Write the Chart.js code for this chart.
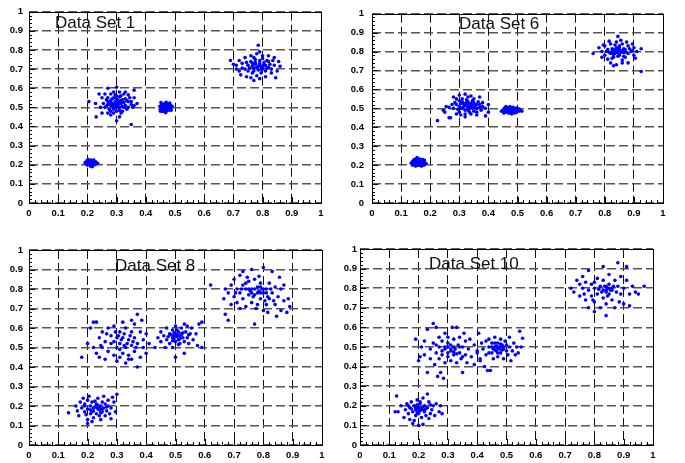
<!DOCTYPE html>
<html>
<head>
<meta charset="utf-8">
<script src="https://cdn.jsdelivr.net/npm/chart.js@4.4.0/dist/chart.umd.min.js"></script>
<style>
  body { margin: 0; background: #fff; width: 685px; height: 463px; position: relative; overflow: hidden; }
  canvas { position: absolute; }
</style>
</head>
<body>
<canvas id="c1" width="335" height="225" style="left:0;top:0"></canvas>
<canvas id="c2" width="345" height="225" style="left:340px;top:0"></canvas>
<canvas id="c3" width="335" height="231" style="left:0;top:232px"></canvas>
<canvas id="c4" width="345" height="231" style="left:340px;top:232px"></canvas>
<script>
const titles = ['Data Set 1', 'Data Set 6', 'Data Set 8', 'Data Set 10']
const tickLabels = ['0', '0.1', '0.2', '0.3', '0.4', '0.5', '0.6', '0.7', '0.8', '0.9', '1']

// Data Set 1
const set1 = [
  // small blob near (0.21, 0.21)
  [0.195,0.205],[0.2,0.215],[0.205,0.22],[0.21,0.212],[0.215,0.205],[0.22,0.218],[0.2,0.198],[0.208,0.2],[0.218,0.198],[0.225,0.21],
  [0.213,0.225],[0.203,0.227],[0.196,0.214],[0.222,0.224],[0.23,0.205],[0.235,0.208],[0.207,0.208],[0.214,0.216],[0.199,0.222],[0.226,0.2],
  [0.21,0.193],[0.217,0.19],[0.192,0.21],[0.228,0.215],[0.204,0.212],
  // cloud near (0.30, 0.52)
  [0.205,0.53],[0.228,0.52],[0.23,0.45],[0.35,0.41],[0.3,0.43],[0.37,0.52],[0.36,0.59],[0.27,0.6],[0.3,0.605],[0.355,0.5],
  [0.24,0.57],[0.25,0.47],[0.31,0.45],[0.28,0.46],
  [0.26,0.5],[0.27,0.53],[0.28,0.51],[0.29,0.55],[0.3,0.52],[0.31,0.5],[0.32,0.54],[0.33,0.51],[0.34,0.53],[0.29,0.49],
  [0.3,0.56],[0.31,0.58],[0.27,0.55],[0.28,0.57],[0.325,0.57],[0.335,0.49],[0.345,0.55],[0.285,0.52],[0.295,0.5],[0.305,0.535],
  [0.315,0.52],[0.275,0.49],[0.265,0.54],[0.255,0.52],[0.32,0.48],[0.3,0.48],[0.29,0.47],[0.34,0.5],[0.35,0.53],[0.36,0.55],
  [0.25,0.55],[0.26,0.57],[0.31,0.555],[0.33,0.545],[0.28,0.535],[0.295,0.565],[0.32,0.505],[0.305,0.515],[0.285,0.505],[0.31,0.485],
  [0.27,0.515],[0.34,0.565],[0.35,0.515],[0.3,0.545],[0.325,0.525],[0.315,0.56],[0.295,0.53],[0.28,0.48],[0.265,0.505],[0.33,0.58],
  [0.29,0.58],[0.245,0.5],[0.36,0.51],[0.315,0.47],[0.27,0.47],
  [0.295,0.515],[0.305,0.5],[0.315,0.535],[0.285,0.545],[0.275,0.525],[0.325,0.5],[0.335,0.535],[0.3,0.53],[0.31,0.525],[0.29,0.51],
  // small blob near (0.465, 0.50)
  [0.45,0.49],[0.455,0.5],[0.46,0.51],[0.465,0.495],[0.47,0.505],[0.475,0.49],[0.48,0.5],[0.485,0.51],[0.46,0.485],[0.47,0.48],
  [0.48,0.485],[0.455,0.515],[0.465,0.52],[0.475,0.515],[0.485,0.495],[0.49,0.505],[0.448,0.505],[0.452,0.525],[0.47,0.527],[0.482,0.522],
  [0.458,0.478],[0.468,0.472],[0.476,0.5],[0.462,0.503],[0.487,0.485],[0.45,0.48],
  // cloud near (0.79, 0.71)
  [0.69,0.745],[0.71,0.72],[0.72,0.69],[0.73,0.73],[0.74,0.7],[0.75,0.72],[0.76,0.74],[0.77,0.69],[0.78,0.71],[0.79,0.73],
  [0.8,0.7],[0.81,0.72],[0.82,0.74],[0.83,0.7],[0.84,0.72],[0.85,0.69],[0.86,0.715],[0.785,0.825],[0.78,0.78],[0.8,0.77],
  [0.82,0.77],[0.76,0.77],[0.74,0.76],[0.72,0.745],[0.725,0.67],[0.745,0.66],[0.77,0.64],[0.79,0.65],[0.81,0.66],[0.845,0.655],
  [0.83,0.68],[0.765,0.68],[0.755,0.705],[0.775,0.725],[0.795,0.715],[0.805,0.735],[0.815,0.705],[0.785,0.695],[0.765,0.715],[0.79,0.745],
  [0.8,0.755],[0.775,0.75],[0.825,0.725],[0.835,0.745],[0.75,0.69],[0.73,0.705],[0.71,0.7],[0.7,0.725],[0.855,0.74],[0.84,0.76],
  [0.77,0.705],[0.81,0.69],[0.795,0.68],[0.78,0.665],[0.76,0.655],[0.82,0.71],[0.79,0.79],[0.77,0.76],[0.745,0.735],
  [0.785,0.715],[0.795,0.7],[0.805,0.72],[0.775,0.735],[0.815,0.745],[0.765,0.73],[0.79,0.72],[0.8,0.71]
]

// Data Set 6
const set6 = [
  [0.135,0.21],[0.14,0.22],[0.145,0.205],[0.15,0.215],[0.155,0.225],[0.16,0.21],[0.165,0.22],[0.17,0.205],[0.175,0.215],[0.18,0.225],
  [0.185,0.21],[0.14,0.2],[0.15,0.195],[0.16,0.198],[0.17,0.195],[0.178,0.2],[0.145,0.23],[0.155,0.24],[0.165,0.232],[0.175,0.23],
  [0.157,0.208],[0.148,0.222],[0.168,0.214],[0.182,0.205],[0.152,0.232],[0.162,0.228],[0.138,0.215],[0.173,0.222],
  [0.225,0.435],[0.25,0.48],[0.245,0.49],[0.265,0.45],[0.27,0.45],[0.4,0.52],[0.4,0.48],[0.39,0.46],[0.255,0.51],[0.28,0.56],[0.37,0.56],
  [0.28,0.5],[0.29,0.52],[0.3,0.54],[0.31,0.5],[0.32,0.52],[0.33,0.49],[0.34,0.51],[0.35,0.53],[0.36,0.5],[0.37,0.52],
  [0.38,0.51],[0.3,0.48],[0.32,0.47],[0.34,0.47],[0.36,0.48],[0.31,0.55],[0.33,0.56],[0.35,0.55],[0.29,0.55],[0.3,0.57],
  [0.32,0.575],[0.34,0.565],[0.315,0.51],[0.325,0.53],[0.335,0.52],[0.345,0.5],[0.355,0.515],[0.365,0.535],[0.305,0.525],[0.295,0.495],
  [0.285,0.53],[0.275,0.52],[0.345,0.54],[0.375,0.49],[0.36,0.465],[0.305,0.465],[0.32,0.455],[0.335,0.48],[0.29,0.47],[0.38,0.53],
  [0.39,0.5],[0.265,0.505],[0.31,0.535],[0.33,0.505],[0.35,0.485],[0.325,0.545],[0.34,0.525],[0.36,0.52],[0.3,0.51],[0.37,0.505],
  [0.325,0.515],[0.335,0.5],[0.315,0.525],[0.345,0.515],[0.305,0.5],[0.355,0.5],[0.33,0.535],[0.32,0.49],
  [0.45,0.49],[0.455,0.5],[0.46,0.48],[0.465,0.495],[0.47,0.505],[0.475,0.485],[0.48,0.495],[0.485,0.505],[0.49,0.49],[0.495,0.48],
  [0.5,0.495],[0.505,0.485],[0.51,0.49],[0.515,0.485],[0.46,0.51],[0.47,0.475],[0.48,0.47],[0.49,0.475],[0.475,0.508],[0.488,0.5],
  [0.468,0.488],[0.458,0.492],[0.478,0.478],[0.497,0.502],[0.445,0.485],[0.453,0.475],[0.482,0.488],[0.505,0.498],
  [0.76,0.79],[0.78,0.82],[0.79,0.8],[0.8,0.78],[0.8,0.83],[0.81,0.81],[0.82,0.79],[0.82,0.84],[0.83,0.77],[0.83,0.81],
  [0.84,0.8],[0.84,0.85],[0.845,0.88],[0.85,0.78],[0.85,0.82],[0.86,0.8],[0.86,0.84],[0.87,0.77],[0.87,0.81],[0.88,0.79],
  [0.88,0.83],[0.89,0.8],[0.9,0.78],[0.9,0.82],[0.91,0.8],[0.925,0.815],[0.925,0.695],[0.81,0.76],[0.82,0.74],[0.84,0.73],
  [0.86,0.74],[0.88,0.74],[0.83,0.725],[0.79,0.77],[0.795,0.835],[0.815,0.855],[0.835,0.835],[0.855,0.86],[0.875,0.85],[0.895,0.84],
  [0.905,0.765],[0.815,0.795],[0.825,0.815],[0.835,0.79],[0.845,0.815],[0.855,0.795],[0.865,0.815],[0.875,0.795],[0.845,0.775],[0.865,0.775],
  [0.885,0.815],[0.805,0.8],[0.895,0.805],[0.825,0.765],[0.86,0.755],[0.85,0.83],
  [0.835,0.805],[0.845,0.795],[0.855,0.805],[0.825,0.8],[0.865,0.795],[0.84,0.82],[0.85,0.81],[0.83,0.785]
]

// Data Set 8
const set8 = [
  [0.135,0.165],[0.16,0.2],[0.165,0.175],[0.17,0.15],[0.175,0.22],[0.18,0.19],[0.19,0.17],[0.19,0.21],[0.2,0.13],[0.2,0.23],
  [0.2,0.185],[0.21,0.16],[0.21,0.2],[0.215,0.22],[0.22,0.175],[0.22,0.14],[0.225,0.195],[0.23,0.16],[0.23,0.21],[0.235,0.24],
  [0.24,0.18],[0.24,0.15],[0.245,0.2],[0.25,0.17],[0.25,0.22],[0.255,0.19],[0.26,0.15],[0.26,0.21],[0.265,0.175],[0.27,0.2],
  [0.27,0.23],[0.275,0.16],[0.28,0.19],[0.285,0.245],[0.29,0.22],[0.295,0.17],[0.3,0.26],[0.2,0.11],[0.215,0.12],[0.245,0.13],
  [0.255,0.25],[0.205,0.25],[0.185,0.24],[0.195,0.155],[0.235,0.185],[0.225,0.225],[0.245,0.165],[0.265,0.195],[0.28,0.135],[0.21,0.18],
  [0.19,0.2],[0.23,0.195],[0.24,0.19],[0.22,0.19],[0.25,0.185],[0.235,0.205],[0.215,0.17],
  [0.18,0.45],[0.2,0.52],[0.21,0.6],[0.22,0.63],[0.23,0.63],[0.22,0.5],[0.23,0.47],[0.24,0.55],[0.24,0.45],[0.25,0.58],
  [0.25,0.5],[0.26,0.44],[0.26,0.53],[0.27,0.6],[0.27,0.48],[0.28,0.56],[0.28,0.52],[0.29,0.61],[0.29,0.46],[0.3,0.55],
  [0.3,0.5],[0.3,0.43],[0.31,0.58],[0.31,0.52],[0.32,0.63],[0.32,0.47],[0.32,0.55],[0.33,0.5],[0.33,0.6],[0.33,0.42],
  [0.34,0.54],[0.34,0.46],[0.35,0.58],[0.35,0.51],[0.35,0.44],[0.36,0.62],[0.36,0.55],[0.36,0.48],[0.37,0.67],[0.37,0.52],
  [0.37,0.4],[0.38,0.58],[0.38,0.45],[0.39,0.54],[0.39,0.5],[0.4,0.57],[0.4,0.47],[0.41,0.52],[0.385,0.64],[0.35,0.64],
  [0.29,0.53],[0.31,0.49],[0.315,0.54],[0.325,0.57],[0.335,0.52],[0.345,0.56],[0.305,0.56],[0.325,0.51],[0.355,0.53],[0.365,0.5],
  [0.295,0.58],[0.34,0.44],[0.31,0.45],[0.265,0.57],[0.245,0.51],
  [0.43,0.5],[0.44,0.55],[0.45,0.58],[0.45,0.53],[0.46,0.56],[0.465,0.5],[0.47,0.6],[0.47,0.54],[0.48,0.57],[0.48,0.52],
  [0.49,0.55],[0.49,0.59],[0.49,0.5],[0.5,0.56],[0.5,0.53],[0.5,0.61],[0.5,0.45],[0.51,0.58],[0.51,0.54],[0.515,0.52],
  [0.52,0.57],[0.52,0.6],[0.525,0.55],[0.53,0.62],[0.53,0.53],[0.535,0.58],[0.54,0.55],[0.54,0.61],[0.545,0.52],[0.55,0.57],
  [0.555,0.6],[0.56,0.54],[0.57,0.57],[0.575,0.51],[0.58,0.62],[0.59,0.63],[0.59,0.5],[0.505,0.565],[0.495,0.545],[0.515,0.56],
  [0.485,0.565],[0.525,0.575],[0.505,0.59],[0.495,0.575],[0.51,0.515],[0.53,0.47],[0.475,0.555],[0.545,0.565],
  [0.505,0.555],[0.515,0.545],[0.495,0.56],[0.52,0.565],[0.5,0.57],[0.49,0.535],
  [0.62,0.82],[0.665,0.75],[0.67,0.67],[0.68,0.64],[0.67,0.8],[0.68,0.78],[0.69,0.82],[0.69,0.72],[0.7,0.85],[0.7,0.76],
  [0.71,0.8],[0.71,0.73],[0.72,0.87],[0.72,0.78],[0.73,0.82],[0.73,0.75],[0.73,0.89],[0.74,0.8],[0.74,0.71],[0.75,0.77],
  [0.75,0.84],[0.76,0.73],[0.76,0.8],[0.76,0.9],[0.77,0.62],[0.77,0.77],[0.77,0.85],[0.78,0.72],[0.78,0.81],[0.79,0.75],
  [0.79,0.83],[0.8,0.91],[0.8,0.78],[0.8,0.69],[0.81,0.8],[0.81,0.72],[0.815,0.68],[0.82,0.75],[0.82,0.83],[0.83,0.78],
  [0.83,0.89],[0.84,0.72],[0.84,0.81],[0.845,0.66],[0.85,0.76],[0.855,0.86],[0.86,0.8],[0.86,0.69],[0.87,0.74],[0.87,0.82],
  [0.88,0.68],[0.885,0.75],[0.89,0.71],[0.745,0.86],[0.755,0.79],[0.765,0.76],[0.785,0.79],[0.795,0.8],[0.805,0.74],[0.725,0.8],
  [0.705,0.78],[0.785,0.865],[0.815,0.76],[0.825,0.8],[0.835,0.74],[0.775,0.7],[0.72,0.7],[0.74,0.83],[0.79,0.78],
  [0.77,0.8],[0.78,0.78],[0.75,0.8],[0.8,0.8],[0.76,0.78],[0.79,0.81],[0.81,0.78]
]

// Data Set 10
const set10 = [
  [0.12,0.17],[0.125,0.25],[0.13,0.17],[0.14,0.2],[0.15,0.14],[0.155,0.18],[0.16,0.21],[0.165,0.16],[0.17,0.19],[0.17,0.13],
  [0.175,0.22],[0.18,0.17],[0.18,0.11],[0.185,0.2],[0.19,0.15],[0.19,0.18],[0.195,0.23],[0.2,0.16],[0.2,0.19],[0.2,0.1],
  [0.205,0.21],[0.21,0.14],[0.21,0.18],[0.215,0.24],[0.22,0.17],[0.22,0.2],[0.225,0.15],[0.23,0.26],[0.23,0.19],[0.235,0.22],
  [0.24,0.16],[0.245,0.18],[0.25,0.2],[0.255,0.15],[0.26,0.21],[0.27,0.17],[0.275,0.2],[0.28,0.16],[0.215,0.105],[0.185,0.125],
  [0.195,0.195],[0.205,0.175],[0.175,0.185],[0.215,0.195],[0.225,0.185],[0.165,0.2],[0.24,0.205],[0.235,0.135],[0.195,0.165],[0.205,0.22],
  [0.2,0.185],[0.21,0.19],[0.19,0.19],[0.2,0.17],[0.22,0.18],[0.195,0.205],
  [0.19,0.54],[0.2,0.43],[0.205,0.45],[0.21,0.5],[0.22,0.46],[0.22,0.53],[0.23,0.59],[0.23,0.37],[0.24,0.44],[0.24,0.49],
  [0.25,0.52],[0.25,0.62],[0.255,0.41],[0.26,0.47],[0.26,0.6],[0.265,0.35],[0.27,0.5],[0.27,0.44],[0.275,0.37],[0.28,0.53],
  [0.28,0.46],[0.285,0.34],[0.29,0.57],[0.29,0.49],[0.29,0.42],[0.3,0.52],[0.3,0.45],[0.3,0.55],[0.31,0.48],[0.31,0.43],
  [0.31,0.51],[0.315,0.6],[0.32,0.46],[0.32,0.54],[0.325,0.49],[0.33,0.42],[0.33,0.6],[0.335,0.51],[0.34,0.47],[0.34,0.55],
  [0.345,0.44],[0.35,0.5],[0.35,0.37],[0.355,0.57],[0.36,0.46],[0.36,0.53],[0.365,0.42],[0.37,0.49],[0.375,0.54],[0.38,0.45],
  [0.39,0.51],[0.39,0.41],[0.4,0.47],[0.405,0.57],[0.41,0.43],[0.3,0.47],[0.32,0.5],[0.28,0.48],[0.34,0.5],[0.3,0.5],
  [0.26,0.51],[0.35,0.45],[0.27,0.55],[0.33,0.465],[0.31,0.49],[0.32,0.475],[0.29,0.5],
  [0.4,0.48],[0.41,0.44],[0.415,0.52],[0.42,0.49],[0.425,0.4],[0.43,0.53],[0.43,0.46],[0.435,0.38],[0.44,0.5],[0.44,0.54],
  [0.445,0.38],[0.45,0.47],[0.45,0.52],[0.455,0.44],[0.46,0.5],[0.46,0.55],[0.465,0.48],[0.47,0.52],[0.47,0.45],[0.475,0.5],
  [0.48,0.47],[0.48,0.54],[0.485,0.51],[0.49,0.49],[0.49,0.44],[0.495,0.53],[0.5,0.48],[0.5,0.51],[0.505,0.46],[0.51,0.5],
  [0.51,0.55],[0.515,0.43],[0.52,0.48],[0.525,0.52],[0.53,0.46],[0.535,0.5],[0.54,0.47],[0.545,0.58],[0.55,0.5],[0.555,0.545],
  [0.465,0.505],[0.475,0.49],[0.455,0.49],[0.485,0.485],[0.46,0.52],[0.48,0.5],[0.45,0.5],[0.47,0.47],[0.44,0.47],
  [0.47,0.495],[0.48,0.515],[0.46,0.485],[0.49,0.5],
  [0.72,0.8],[0.73,0.78],[0.74,0.84],[0.75,0.82],[0.75,0.76],[0.76,0.86],[0.76,0.8],[0.77,0.74],[0.77,0.83],[0.78,0.7],
  [0.78,0.79],[0.78,0.89],[0.79,0.76],[0.79,0.82],[0.8,0.68],[0.8,0.73],[0.8,0.8],[0.81,0.85],[0.81,0.77],[0.82,0.7],
  [0.82,0.81],[0.83,0.75],[0.83,0.84],[0.83,0.91],[0.84,0.66],[0.84,0.79],[0.84,0.72],[0.85,0.82],[0.85,0.77],[0.85,0.87],
  [0.86,0.74],[0.86,0.8],[0.87,0.7],[0.87,0.84],[0.875,0.78],[0.88,0.93],[0.88,0.81],[0.885,0.73],[0.89,0.77],[0.89,0.86],
  [0.9,0.8],[0.9,0.72],[0.91,0.84],[0.91,0.91],[0.92,0.77],[0.92,0.71],[0.93,0.81],[0.94,0.78],[0.97,0.81],[0.95,0.77],
  [0.815,0.795],[0.825,0.78],[0.835,0.81],[0.845,0.8],[0.855,0.79],[0.865,0.81],[0.845,0.76],[0.8,0.83],[0.795,0.74],[0.765,0.77],
  [0.84,0.81],[0.85,0.8],[0.86,0.79],[0.83,0.79],[0.84,0.78]
]

const POINT_COLOR = '#0000ff'
const TICK_FONT = { family: '"Liberation Sans", Arial, sans-serif', size: 9.5, weight: 'bold' }

// draws the box, the small inward ticks and the "Data Set" label
const framePlugin = {
  id: 'frame',
  afterDraw(chart, args, opts) {
    const { ctx, chartArea: a } = chart
    const x = chart.scales.x
    const y = chart.scales.y
    ctx.save()
    ctx.strokeStyle = '#000'
    ctx.lineWidth = 1
    ctx.strokeRect(Math.round(a.left) + 0.5, Math.round(a.top) + 0.5,
      Math.round(a.right - a.left), Math.round(a.bottom - a.top))
    ctx.beginPath()
    for (let i = 0; i <= 50; i++) {
      const len = i % 5 === 0 ? 6 : 3
      const px = Math.round(x.getPixelForValue(i / 50)) + 0.5
      ctx.moveTo(px, a.bottom)
      ctx.lineTo(px, a.bottom - len)
      const py = Math.round(y.getPixelForValue(i / 50)) + 0.5
      ctx.moveTo(a.left, py)
      ctx.lineTo(a.left + len, py)
    }
    ctx.stroke()
    ctx.font = '17px "Liberation Sans", Arial, sans-serif'
    ctx.fillStyle = '#111'
    ctx.textBaseline = 'middle'
    ctx.fillText(opts.text, opts.tx, opts.ty)
    ctx.restore()
  }
}

function makePanel(id, title, points, box) {
  const canvas = document.getElementById(id)
  const ctx = canvas.getContext('2d')
  return new Chart(ctx, {
    type: 'scatter',
    data: {
      datasets: [{
        data: points.map(p => ({ x: p[0], y: p[1] })),
        backgroundColor: POINT_COLOR,
        borderWidth: 0,
        pointRadius: 1.8,
        pointHoverRadius: 1.8
      }]
    },
    options: {
      responsive: false,
      animation: false,
      events: [],
      layout: { padding: { top: box.top, right: box.right, left: 0, bottom: 0 } },
      scales: {
        x: {
          min: 0, max: 1,
          afterFit: s => { s.height = box.xh },
          ticks: {
            stepSize: 0.1, autoSkip: false, maxRotation: 0, padding: 5,
            color: '#000', font: TICK_FONT,
            callback: (v, i) => tickLabels[i]
          },
          grid: { color: '#111', lineWidth: 1, drawTicks: false },
          border: { display: false, dash: [9, 4] }
        },
        y: {
          min: 0, max: 1,
          afterFit: s => { s.width = box.yw },
          ticks: {
            stepSize: 0.1, autoSkip: false, padding: box.yp,
            color: '#000', font: TICK_FONT,
            callback: (v, i) => tickLabels[i]
          },
          grid: { color: '#555', lineWidth: 1.6, drawTicks: false },
          border: { display: false, dash: [9, 4] }
        }
      },
      plugins: {
        legend: { display: false },
        tooltip: { enabled: false },
        frame: { text: title, tx: box.tx, ty: box.ty }
      }
    },
    plugins: [framePlugin]
  })
}

makePanel('c1', titles[0], set1, { top: 10, right: 14, xh: 22, yw: 29, yp: 6, tx: 55, ty: 23 })
makePanel('c2', titles[1], set6, { top: 10, right: 22, xh: 22, yw: 32, yp: 8, tx: 119, ty: 24 })
makePanel('c3', titles[2], set8, { top: 18, right: 13, xh: 18, yw: 29, yp: 6, tx: 115, ty: 34 })
makePanel('c4', titles[3], set10, { top: 17, right: 32, xh: 18, yw: 20, yp: 3, tx: 89, ty: 32 })
</script>
</body>
</html>
